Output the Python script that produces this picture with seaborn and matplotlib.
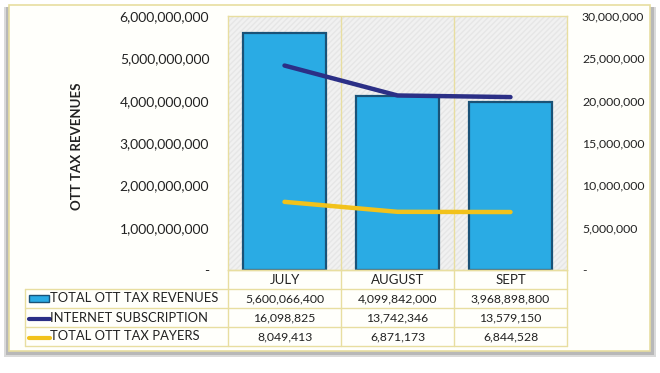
import numpy as np
import pandas as pd
import matplotlib
matplotlib.use('Agg')
import matplotlib.pyplot as plt
import seaborn as sns
from matplotlib.patches import Rectangle
from matplotlib.lines import Line2D

# ── data ─────────────────────────────────────────────
months = ['JULY', 'AUGUST', 'SEPT']
revenues = [5600066400, 4099842000, 3968898800]
internet_subs = [16098825, 13742346, 13579150]
tax_payers = [8049413, 6871173, 6844528]
series_names = ['TOTAL OTT TAX REVENUES', 'INTERNET SUBSCRIPTION', 'TOTAL OTT TAX PAYERS']

left_ticks = [0, 1e9, 2e9, 3e9, 4e9, 5e9, 6e9]
right_ticks = [0, 5e6, 10e6, 15e6, 20e6, 25e6, 30e6]

BAR_C = '#2AABE4'
BAR_EDGE = '#1A5277'
NAVY = '#2B2F86'
GOLD = '#F2C21B'
TAN = '#E8DEA0'
TXT = '#222222'

sns.set_theme(style='white')
plt.rcParams['font.family'] = ['Lato', 'DejaVu Sans']

W, H = 660, 373
fig = plt.figure(figsize=(W / 100, H / 100), dpi=100)
fig.patch.set_facecolor('white')


def fx(px):
    return px / W


def fy(py):
    return 1 - py / H


# frame with soft shadow (kept behind the axes)
fig.patches.append(Rectangle((fx(4), fy(357)), fx(652), 350 / H,
                             transform=fig.transFigure, facecolor='#DADADA',
                             edgecolor='none', zorder=-4))
fig.patches.append(Rectangle((fx(6), fy(355)), fx(648), 348 / H,
                             transform=fig.transFigure, facecolor='#B8B8B8',
                             edgecolor='none', zorder=-3))
fig.patches.append(Rectangle((fx(9), fy(351)), fx(641), 346 / H,
                             transform=fig.transFigure, facecolor='#FFFFFB',
                             edgecolor=TAN, linewidth=1.2, zorder=-2))

# ── main axes ───────────────────────────────────────
PL, PR, PT, PB = 228, 567, 16, 270
ax = fig.add_axes([fx(PL), fy(PB), fx(PR - PL), (PB - PT) / H])
ax.set_facecolor('#F1F1F1')
ax.add_patch(Rectangle((0, 0), 1, 1, transform=ax.transAxes, facecolor='none',
                       edgecolor='#E6E6E6', hatch='//////', linewidth=0, zorder=0))

df = pd.DataFrame({'month': months, 'revenue': revenues})
sns.barplot(data=df, x='month', y='revenue', color=BAR_C, width=0.74,
            edgecolor=BAR_EDGE, linewidth=1.6, saturation=1, ax=ax, zorder=2)
ax.set_xlim(-0.5, 2.5)
ax.set_ylim(0, 6e9)
ax.set_yticks(left_ticks)
ax.set_yticklabels(['-' if v == 0 else f'{int(v):,}' for v in left_ticks],
                   fontsize=10, color=TXT)
ax.tick_params(axis='y', length=0, pad=13.5)
ax.set_xticks([])
ax.set_xlabel('')
ax.set_ylabel('')
for x in [0.5, 1.5]:
    ax.axvline(x, color=TAN, lw=1, zorder=1)
for s in ax.spines.values():
    s.set_color(TAN)
    s.set_linewidth(1)

# lines on secondary axis (stacked)
ax2 = ax.twinx()
stack_low = np.array(tax_payers)
stack_high = stack_low + np.array(internet_subs)
xs = np.arange(len(months))
ax2.plot(xs, stack_high, color=NAVY, lw=3.2, solid_capstyle='round', zorder=3)
ax2.plot(xs, stack_low, color=GOLD, lw=3.2, solid_capstyle='round', zorder=3)
ax2.set_ylim(0, 30e6)
ax2.set_yticks(right_ticks)
ax2.set_yticklabels(['-' if v == 0 else f'{int(v):,}' for v in right_ticks],
                    fontsize=8.8, color=TXT)
ax2.tick_params(axis='y', length=0, pad=10.8)
for s in ax2.spines.values():
    s.set_visible(False)

fig.text(fx(77), fy(146), 'OTT TAX REVENUES', rotation=90, ha='center', va='center',
         fontsize=9.5, fontweight='bold', color=TXT)

# ── data table ──────────────────────────────────────
TL = 25
col_edges = [PL, 341, 454, PR]
row_edges = [270, 289, 308, 327, 346]


def hline(y, x0, x1):
    fig.add_artist(Line2D([fx(x0), fx(x1)], [fy(y), fy(y)], color=TAN, lw=1,
                          transform=fig.transFigure))


def vline(x, y0, y1):
    fig.add_artist(Line2D([fx(x), fx(x)], [fy(y0), fy(y1)], color=TAN, lw=1,
                          transform=fig.transFigure))


hline(row_edges[0], PL, PR)
for y in row_edges[1:]:
    hline(y, TL, PR)
for x in col_edges:
    vline(x, row_edges[0], row_edges[-1])
vline(TL, row_edges[1], row_edges[-1])

for i, m in enumerate(months):
    cx = (col_edges[i] + col_edges[i + 1]) / 2
    fig.text(fx(cx), fy((row_edges[0] + row_edges[1]) / 2), m, ha='center',
             va='center', fontsize=9.5, color=TXT)

table_vals = [revenues, internet_subs, tax_payers]
for r, (name, vals) in enumerate(zip(series_names, table_vals)):
    cy = (row_edges[r + 1] + row_edges[r + 2]) / 2
    fig.text(fx(50), fy(cy), name, ha='left', va='center', fontsize=9.4,
             color=TXT)
    for i, v in enumerate(vals):
        cx = (col_edges[i] + col_edges[i + 1]) / 2
        fig.text(fx(cx), fy(cy), f'{v:,}', ha='center', va='center',
                 fontsize=8.8, color=TXT)

# legend keys
cy0 = (row_edges[1] + row_edges[2]) / 2
fig.patches.append(Rectangle((fx(29), fy(cy0 + 3.5)), fx(20), 7 / H,
                             transform=fig.transFigure, facecolor=BAR_C,
                             edgecolor=BAR_EDGE, lw=1))
for r, c in [(1, NAVY), (2, GOLD)]:
    cy = (row_edges[r + 1] + row_edges[r + 2]) / 2
    fig.add_artist(Line2D([fx(29), fx(50)], [fy(cy + 1), fy(cy + 1)], color=c,
                          lw=3, transform=fig.transFigure))

fig.savefig('out.png', dpi=100)
